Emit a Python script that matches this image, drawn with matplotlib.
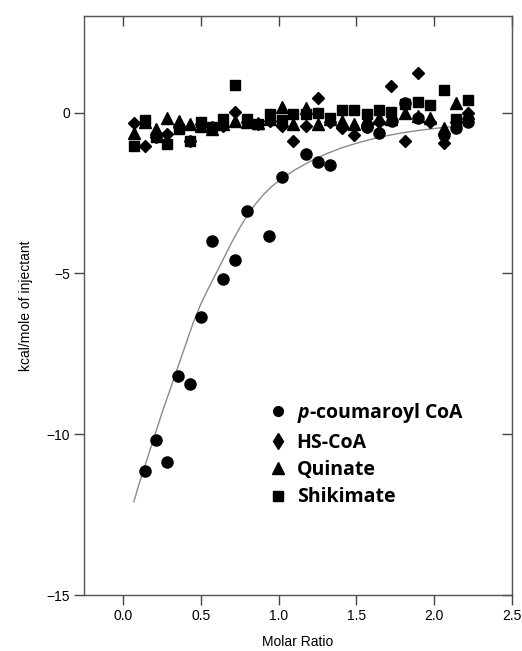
import numpy as np
import matplotlib
matplotlib.use("Agg")
import matplotlib.pyplot as plt

plt.rcParams["font.family"] = ["Liberation Sans", "DejaVu Sans"]
plt.rcParams["mathtext.fontset"] = "custom"
plt.rcParams["mathtext.it"] = "Open Sans:italic:bold"
plt.rcParams["mathtext.rm"] = "Open Sans:bold"

# molar ratio grid of the injections (ligands that do not bind)
grid_x = [0.07, 0.14, 0.21, 0.28, 0.36, 0.43, 0.50, 0.57, 0.645, 0.72, 0.795, 0.87,
          0.945, 1.02, 1.095, 1.175, 1.25, 1.33, 1.405, 1.485, 1.565, 1.645, 1.725,
          1.81, 1.895, 1.975, 2.06, 2.14, 2.22]

shikimate_y = [-1.03, -0.23, -0.77, -0.98, -0.52, -0.88, -0.29, -0.45, -0.21, 0.85,
               -0.21, -0.35, -0.03, -0.23, -0.05, -0.05, 0.0, -0.15, 0.10, 0.10,
               -0.03, 0.07, 0.03, 0.26, 0.33, 0.24, 0.72, -0.18, 0.39]
hscoa_y = [-0.31, -1.03, -0.75, -0.67, -0.45, -0.88, -0.35, -0.45, -0.40, 0.02,
           -0.30, -0.35, -0.25, -0.40, -0.88, -0.41, 0.46, -0.30, -0.49, -0.69,
           -0.45, -0.30, 0.83, -0.88, 1.24, -0.30, -0.95, -0.30, 0.0]
quinate_y = [-0.62, -0.30, -0.50, -0.15, -0.26, -0.34, -0.40, -0.52, -0.35, -0.26,
             -0.30, -0.31, -0.20, 0.18, -0.36, 0.15, -0.36, -0.18, -0.25, -0.34,
             -0.20, -0.15, -0.20, 0.0, -0.10, -0.15, -0.46, 0.31, 0.0]

# p-coumaroyl CoA binding points
coum_x = [0.14, 0.21, 0.28, 0.355, 0.43, 0.50, 0.572, 0.645, 0.718, 0.795, 0.94, 1.02,
          1.174, 1.25, 1.33, 1.566, 1.647, 1.726, 1.81, 1.894, 2.06, 2.14, 2.22]
coum_y = [-11.15, -10.19, -10.85, -8.19, -8.45, -6.35, -3.98, -5.16, -4.57, -3.07,
          -3.84, -2.01, -1.29, -1.52, -1.63, -0.44, -0.62, -0.26, 0.30, -0.17,
          -0.70, -0.46, -0.29]

# fitted curve
fit_x = [0.07, 0.10, 0.15, 0.20, 0.25, 0.30, 0.35, 0.40, 0.45, 0.50, 0.55, 0.60, 0.65,
         0.70, 0.75, 0.80, 0.85, 0.90, 0.95, 1.00, 1.10, 1.20, 1.30, 1.40, 1.50, 1.60,
         1.70, 1.80, 1.90, 2.00, 2.10, 2.22]
fit_y = [-12.1, -11.6, -10.85, -10.1, -9.35, -8.65, -7.95, -7.25, -6.55, -5.95, -5.45,
         -4.98, -4.5, -4.02, -3.58, -3.18, -2.85, -2.56, -2.32, -2.12, -1.79, -1.52,
         -1.29, -1.1, -0.95, -0.82, -0.71, -0.62, -0.55, -0.49, -0.44, -0.39]

fig = plt.figure(figsize=(5.22, 6.51), dpi=100)
ax = fig.add_axes([0.161, 0.086, 0.82, 0.889])

ax.plot(fit_x, fit_y, color="#8a8a8a", linewidth=1.0, zorder=1)
ax.plot(grid_x, shikimate_y, "s", color="black", markersize=7.5, linestyle="none", zorder=2)
ax.plot(grid_x, quinate_y, "^", color="black", markersize=9, linestyle="none", zorder=2)
ax.plot(grid_x, hscoa_y, "D", color="black", markersize=6.5, linestyle="none", zorder=2)
ax.plot(coum_x, coum_y, "o", color="black", markersize=8, linestyle="none", zorder=3)

ax.set_xlim(-0.25, 2.5)
ax.set_ylim(-15, 3)
ax.set_xticks([0.0, 0.5, 1.0, 1.5, 2.0, 2.5])
ax.set_xticklabels(["0.0", "0.5", "1.0", "1.5", "2.0", "2.5"])
ax.set_yticks([-15, -10, -5, 0])
ax.tick_params(direction="out", length=7, width=1, color="#444444", labelsize=10, pad=3)
for s in ax.spines.values():
    s.set_color("#555555")
    s.set_linewidth(1)

top = ax.secondary_xaxis("top")
top.set_xticks([0.0, 0.5, 1.0, 1.5, 2.0, 2.5])
top.tick_params(direction="in", length=7, width=1, color="#444444", labeltop=False)
right = ax.secondary_yaxis("right")
right.set_yticks([-15, -10, -5, 0])
right.tick_params(direction="in", length=7, width=1, color="#444444", labelright=False)
for sec in (top, right):
    for s in sec.spines.values():
        s.set_color("#555555")

ax.set_xlabel("Molar Ratio", fontsize=10, labelpad=9)
ax.set_ylabel("kcal/mole of injectant", fontsize=10, labelpad=10)

handles = [
    plt.Line2D([], [], marker="o", color="black", linestyle="none", markersize=7),
    plt.Line2D([], [], marker="d", color="black", linestyle="none", markersize=8),
    plt.Line2D([], [], marker="^", color="black", linestyle="none", markersize=9),
    plt.Line2D([], [], marker="s", color="black", linestyle="none", markersize=6.5),
]
labels = [r"$p$-coumaroyl CoA", "HS-CoA", "Quinate", "Shikimate"]
leg = ax.legend(handles, labels, loc="upper left", bbox_to_anchor=(0.39, 0.365),
                frameon=False, handlelength=1.0, handletextpad=0.45, labelspacing=0.38,
                prop={"family": "Open Sans", "weight": "bold", "size": 14})

fig.savefig("out.png", dpi=100)
